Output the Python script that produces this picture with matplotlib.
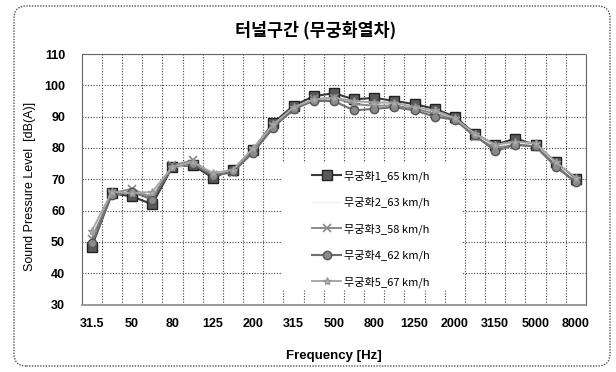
import matplotlib
matplotlib.use("Agg")
import matplotlib.pyplot as plt
from matplotlib.patches import FancyBboxPatch, Rectangle

plt.rcParams["font.family"] = ["Liberation Sans", "Noto Sans CJK KR", "DejaVu Sans"]

# 1/3-octave band centre frequencies (categorical axis)
bands = ["31.5", "40", "50", "63", "80", "100", "125", "160", "200", "250",
         "315", "400", "500", "630", "800", "1000", "1250", "1600", "2000",
         "2500", "3150", "4000", "5000", "6300", "8000"]

labels = ["무궁화1_65 km/h", "무궁화2_63 km/h", "무궁화3_58 km/h",
          "무궁화4_62 km/h", "무궁화5_67 km/h"]

spl_1 = [48.5, 65.5, 64.5, 62.0, 74.0, 74.5, 70.5, 73.0, 79.5, 88.0, 93.5, 96.5,
         97.5, 95.5, 96.0, 95.0, 94.0, 92.5, 90.0, 84.5, 81.0, 83.0, 81.0, 75.5, 70.0]
spl_2 = [52.0, 65.0, 66.0, 65.0, 73.5, 75.0, 71.5, 72.5, 79.0, 86.5, 92.5, 95.0,
         95.5, 94.5, 94.5, 94.0, 93.0, 91.5, 89.5, 84.0, 80.5, 81.5, 81.0, 75.0, 69.5]
spl_3 = [51.0, 65.5, 67.0, 64.0, 74.5, 76.0, 71.5, 72.0, 79.0, 87.0, 92.0, 95.5,
         96.0, 94.0, 93.5, 93.5, 92.5, 91.0, 89.0, 83.5, 80.0, 81.0, 80.5, 74.5, 69.0]
spl_4 = [49.5, 65.0, 66.0, 63.5, 74.0, 75.0, 71.0, 72.5, 78.5, 86.5, 92.5, 95.0,
         95.0, 92.0, 92.5, 93.0, 92.0, 90.0, 89.0, 84.0, 79.0, 81.0, 80.5, 74.0, 69.0]
spl_5 = [53.5, 66.0, 65.5, 66.0, 74.0, 75.5, 72.0, 73.0, 80.0, 87.5, 93.0, 95.5,
         96.0, 95.0, 94.5, 94.5, 93.0, 92.0, 89.5, 84.5, 81.0, 82.0, 81.5, 75.5, 70.5]

W, H = 616, 372
fig = plt.figure(figsize=(W / 100, H / 100), dpi=100)
fig.patch.set_facecolor("white")

# outer rounded dotted frame
frame = FancyBboxPatch((14 / W, 6 / H), 596 / W, 360 / H,
                       boxstyle="round,pad=0,rounding_size=0.02",
                       mutation_aspect=W / H, transform=fig.transFigure,
                       facecolor="none", edgecolor="#555555", lw=1.0,
                       linestyle=(0, (1, 1)))
fig.patches.append(frame)

left, right, top, bottom = 81.7, 586.0, 54.0, 304.5
ax = fig.add_axes([left / W, 1 - bottom / H, (right - left) / W, (bottom - top) / H])

x = list(range(len(bands)))
styles = [
    dict(color="#3a3a3a", marker="s", ms=6.5, mfc="#5a5a5a", mec="#222222", lw=1.5),
    dict(color="#f0f0f0", marker=None, lw=1.0),
    dict(color="#8a8a8a", marker="x", ms=6, mew=1.2, lw=1.4),
    dict(color="#707070", marker="o", ms=6, mfc="#8a8a8a", mec="#555555", lw=1.5),
    dict(color="#a8a8a8", marker="*", ms=6, mfc="#b0b0b0", mec="#999999", lw=1.4),
]
series = [spl_1, spl_2, spl_3, spl_4, spl_5]
handles = []
for ys, st, lab in zip(series, styles, labels):
    h, = ax.plot(x, ys, label=lab, zorder=3, **st)
    handles.append(h)

ax.set_xlim(-0.5, len(bands) - 0.5)
ax.set_ylim(30, 110)
ax.set_yticks(range(30, 111, 10))
ax.set_xticks(x[::2])
ax.set_xticklabels(bands[::2], fontsize=9, fontweight="bold")
ax.set_xticks([i - 0.5 for i in range(1, len(bands))], minor=True)
for t in ax.get_yticklabels():
    t.set_fontweight("bold")
    t.set_fontsize(9)
ax.tick_params(axis="both", which="both", length=0)
ax.tick_params(axis="y", pad=12)
ax.tick_params(axis="x", pad=10)

ax.grid(axis="y", which="major", color="#444444", lw=0.8, linestyle=(0, (1, 1.5)))
ax.grid(axis="x", which="minor", color="#444444", lw=0.8, linestyle=(0, (1, 1.5)))
ax.set_axisbelow(True)
for s in ax.spines.values():
    s.set_color("#666666")
    s.set_linestyle((0, (1, 1)))
    s.set_linewidth(0.8)
ax.spines["bottom"].set_linewidth(1.4)
ax.spines["bottom"].set_color("#999999")

ax.set_ylabel("Sound Pressure Level  [dB(A)]", fontsize=9)
ax.yaxis.set_label_coords(-0.09, 0.47)
ax.set_xlabel("Frequency [Hz]", fontsize=9.5, fontweight="bold", labelpad=14)
fig.text(316 / W, 1 - 30 / H, "터널구간 (무궁화열차)", ha="center", va="center",
         fontsize=12.5, fontweight="bold", family=["Noto Sans CJK KR"])

# legend area blanks out the gridlines behind it
lx0, lx1, ly0, ly1 = 282, 463, 163, 290
blank = Rectangle((lx0 / W, 1 - ly1 / H), (lx1 - lx0) / W, (ly1 - ly0) / H,
                  transform=fig.transFigure, facecolor="white", edgecolor="none",
                  zorder=2)
ax.add_patch(blank)
blank.set_transform(fig.transFigure)

leg = ax.legend(handles=handles, loc="upper left", frameon=False,
                bbox_to_anchor=(310 / W, 1 - 168 / H), bbox_transform=fig.transFigure,
                handlelength=2.6, handletextpad=0.3, labelspacing=1.35,
                borderaxespad=0, borderpad=0.2, prop={"family": ["Noto Sans CJK KR"], "size": 8})
leg.set_zorder(5)

fig.savefig("out.png", dpi=100, facecolor="white")
